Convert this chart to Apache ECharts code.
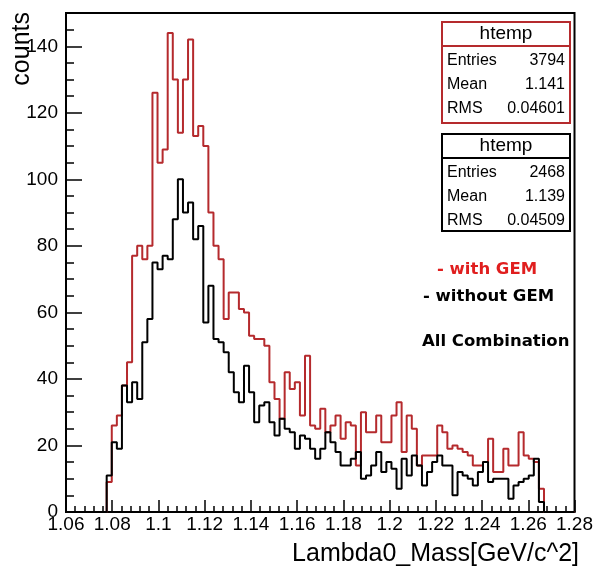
<!DOCTYPE html>
<html>
<head>
<meta charset="utf-8">
<script src="https://cdn.jsdelivr.net/npm/echarts@6/dist/echarts.min.js"></script>
<style>
html,body{margin:0;padding:0;background:#fff;}
#chart{width:596px;height:570px;}
</style>
</head>
<body>
<div id="chart"></div>
<script>
// Histogram binning (ROOT htemp: 100 bins from 1.06 to 1.28)
const binLow = 1.06;
const binHigh = 1.28;
const nBins = 100;
const firstBin = 8; // first bin with content

// counts per bin, starting at firstBin
const withGEM = [
  9,26,29,38,45,77,80,76,80,126,
  105,109,144,130,114,130,142,113,116,110,
  90,80,76,58,66,66,61,60,53,52,
  52,50,39,34,28,42,37,39,29,47,
  26,25,31,24,26,29,22,27,26,14,
  30,24,24,29,21,21,29,33,18,29,
  25,14,17,17,17,26,24,19,20,19,
  18,17,14,14,15,22,12,12,19,14,
  14,24,17,16,15,7
];
const withoutGEM = [
  11,21,19,38,33,39,34,51,58,75,
  73,77,76,88,100,90,93,82,86,57,
  68,52,51,48,42,36,33,44,36,27,
  32,33,27,23,28,25,24,19,23,22,
  19,16,19,24,21,18,14,14,16,18,
  10,11,14,18,12,15,13,7,16,11,
  17,14,8,12,15,17,14,14,5,12,
  11,10,8,12,15,9,10,10,10,4,
  8,9,10,11,16,3
];

const statLabels = ['Entries', 'Mean', 'RMS'];
const statsWithGEM = ['3794', '1.141', '0.04601'];
const statsWithoutGEM = ['2468', '1.139', '0.04509'];

const xTitle = 'Lambda0_Mass[GeV/c^2]';
const yTitle = 'counts';
const legendTexts = ['- with GEM', '- without GEM', 'All Combination'];

const RED = '#b52a2d';

function histData(vals) {
  const w = (binHigh - binLow) / nBins;
  const out = [];
  for (let i = 0; i < nBins; i++) {
    const j = i - firstBin;
    const v = (j >= 0 && j < vals.length) ? vals[j] : 0;
    out.push([+(binLow + i * w).toFixed(5), v]);
  }
  out.push([binHigh, 0]);
  return out;
}

const labelFont = 'Liberation Sans, Arial, Helvetica, sans-serif';

function txt(x, y, text, font, color, align, extra) {
  return Object.assign({type:'text', x:x, y:y, z:102,
    style:{text:text, fill:color, font:font, align:align, verticalAlign:'middle', textAlign:align, textVerticalAlign:'middle'}}, extra || {});
}

function statBox(top, h, color, values) {
  const left = 442, width = 128;
  const els = [
    {type:'rect', shape:{x:left, y:top, width:width, height:h},
     style:{fill:'#fff', stroke:color, lineWidth:2}, z:100},
    {type:'line', shape:{x1:left, y1:top+24, x2:left+width, y2:top+24},
     style:{stroke:color, lineWidth:2}, z:101},
    txt(left+width/2, top+12, 'htemp', '19px ' + labelFont, '#000', 'center')
  ];
  for (let k = 0; k < 3; k++) {
    const yy = top + 39 + k * 24;
    els.push(txt(left+5, yy, statLabels[k], '16px ' + labelFont, '#000', 'left'));
    els.push(txt(left+width-5, yy, values[k], '16px ' + labelFont, '#000', 'right'));
  }
  return els;
}

const chart = echarts.init(document.getElementById('chart'), null, {renderer:'canvas'});

const option = {
  animation: false,
  backgroundColor: '#fff',
  grid: {left:66, top:13, right:17, bottom:58, show:true, borderColor:'#000', borderWidth:2, backgroundColor:'transparent'},
  xAxis: [{
    type:'value', min:binLow, max:binHigh, interval:0.02,
    axisLine:{show:true, onZero:false, lineStyle:{color:'#000', width:2}},
    axisTick:{show:true, inside:true, length:12, lineStyle:{color:'#000', width:1.5}},
    minorTick:{show:true, splitNumber:5, length:6, lineStyle:{color:'#000', width:1.5}},
    axisLabel:{show:true, color:'#000', fontFamily:labelFont, fontSize:19, margin:3,
      showMinLabel:true, showMaxLabel:true,
      formatter: v => String(+(+v).toFixed(2))},
    splitLine:{show:false}
  }],
  yAxis: [{
    type:'value', min:0, max:150, interval:20,
    axisLine:{show:true, onZero:false, lineStyle:{color:'#000', width:2}},
    axisTick:{show:true, inside:true, length:16, lineStyle:{color:'#000', width:1.5}},
    axisLabel:{show:true, color:'#000', fontFamily:labelFont, fontSize:19, margin:8,
      formatter: v => (Math.round(v) % 20 === 0 && v < 145) ? String(Math.round(v)) : ''},
    splitLine:{show:false}
  }, {
    type:'value', min:0, max:150, interval:5, position:'left',
    axisLine:{show:false},
    axisTick:{show:true, inside:true, length:8, lineStyle:{color:'#000', width:1.5}},
    axisLabel:{show:false},
    splitLine:{show:false}
  }],
  series: [{
    name:'with GEM', type:'line', step:'end', data:histData(withGEM),
    symbol:'none', lineStyle:{color:RED, width:2}, itemStyle:{color:RED}, z:3
  }, {
    name:'without GEM', type:'line', step:'end', data:histData(withoutGEM),
    symbol:'none', lineStyle:{color:'#000', width:2}, itemStyle:{color:'#000'}, z:4
  }],
  graphic: [
    ...statBox(22, 101, RED, statsWithGEM),
    ...statBox(134, 97, '#000', statsWithoutGEM),
    txt(437, 270, legendTexts[0], 'bold 16.5px DejaVu Sans', '#e01e1e', 'left'),
    txt(423, 297, legendTexts[1], 'bold 16.5px DejaVu Sans', '#000', 'left'),
    txt(422, 342, legendTexts[2], 'bold 16.5px DejaVu Sans', '#000', 'left'),
    txt(579, 554, xTitle, '25px ' + labelFont, '#000', 'right'),
    txt(22, 12, yTitle, '25px ' + labelFont, '#000', 'right', {rotation:Math.PI/2})
  ]
};
chart.setOption(option);
</script>
</body>
</html>
